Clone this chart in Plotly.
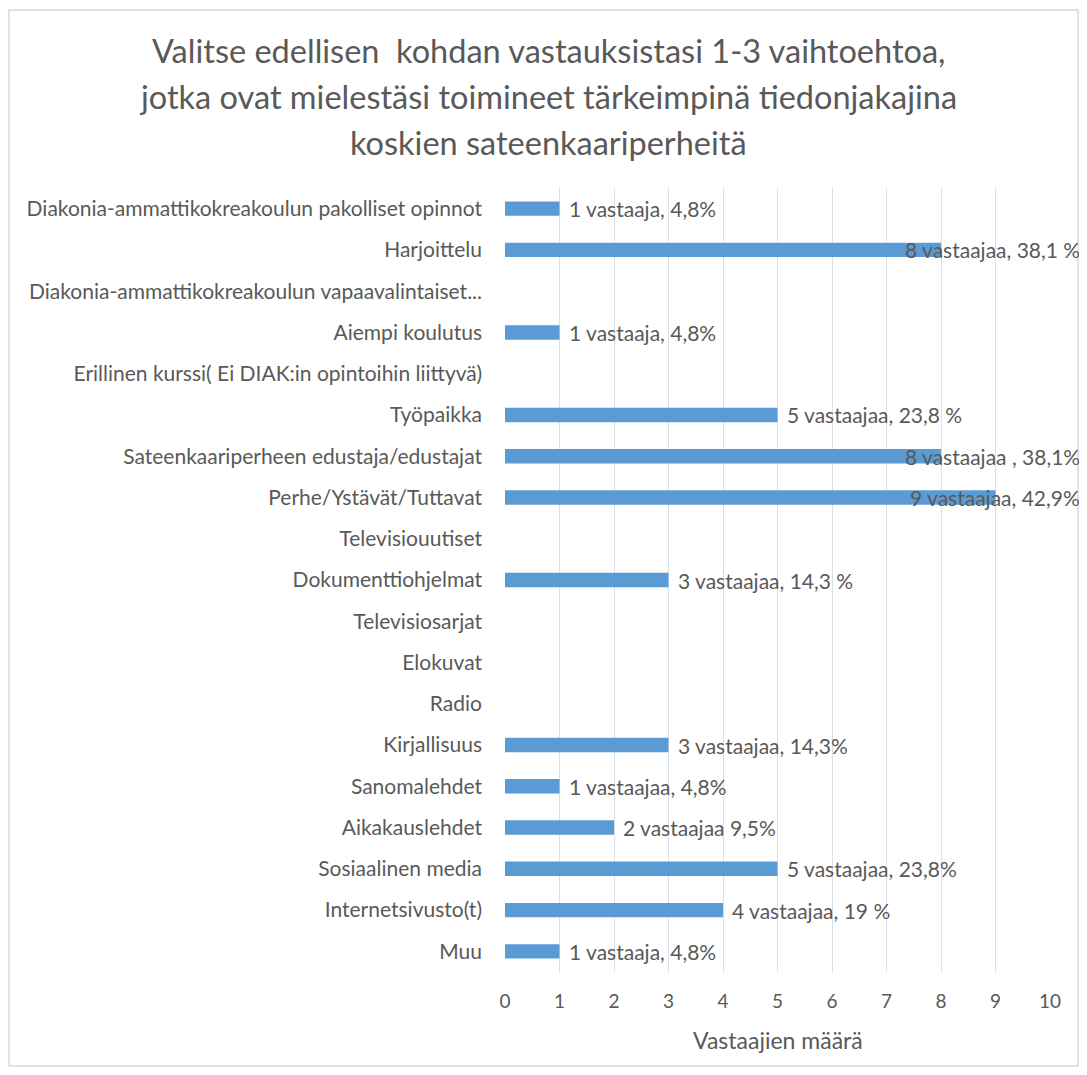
import plotly.graph_objects as go

# ---- data -------------------------------------------------------------------
CATEGORIES = [
    "Diakonia-ammattikokreakoulun pakolliset opinnot",
    "Harjoittelu",
    "Diakonia-ammattikokreakoulun vapaavalintaiset...",
    "Aiempi koulutus",
    "Erillinen kurssi( Ei DIAK:in opintoihin liittyvä)",
    "Työpaikka",
    "Sateenkaariperheen edustaja/edustajat",
    "Perhe/Ystävät/Tuttavat",
    "Televisiouutiset",
    "Dokumenttiohjelmat",
    "Televisiosarjat",
    "Elokuvat",
    "Radio",
    "Kirjallisuus",
    "Sanomalehdet",
    "Aikakauslehdet",
    "Sosiaalinen media",
    "Internetsivusto(t)",
    "Muu",
]
COUNTS = [1, 8, 0, 1, 0, 5, 8, 9, 0, 3, 0, 0, 0, 3, 1, 2, 5, 4, 1]
LABELS = [
    "1 vastaaja, 4,8%",
    "8 vastaajaa, 38,1 %",
    "",
    "1 vastaaja, 4,8%",
    "",
    "5 vastaajaa, 23,8 %",
    "8 vastaajaa , 38,1%",
    "9 vastaajaa, 42,9%",
    "",
    "3 vastaajaa, 14,3 %",
    "",
    "",
    "",
    "3 vastaajaa, 14,3%",
    "1 vastaajaa, 4,8%",
    "2 vastaajaa 9,5%",
    "5 vastaajaa, 23,8%",
    "4 vastaajaa, 19 %",
    "1 vastaaja, 4,8%",
]
TITLE_LINES = [
    "Valitse edellisen  kohdan vastauksistasi 1-3 vaihtoehtoa,",
    "jotka ovat mielestäsi toimineet tärkeimpinä tiedonjakajina",
    "koskien sateenkaariperheitä",
]
X_TICKS = list(range(0, 11))
X_TITLE = "Vastaajien määrä"

# ---- style ------------------------------------------------------------------
PAD = 8  # page body margin around the plot div
W, H = 1087 - 2 * PAD, 1075 - 2 * PAD
ML, MR, MT, MB = 497, 29, 180, 95
BAR = "#5B9BD5"
INK = "#595959"
GRID = "#D6E1EC"
BORDER = "#D9D9D9"
FONT = "Lato, 'Open Sans', sans-serif"

plot_w = W - ML - MR
plot_h = H - MT - MB


# screen pixel -> paper coordinate
def px_x(px):
    return (px - PAD - ML) / plot_w


def px_y(py):
    return 1 - (py - PAD - MT) / plot_h


fig = go.Figure(go.Bar(
    y=CATEGORIES, x=COUNTS, orientation="h",
    marker=dict(color=BAR, line=dict(width=0)),
    width=0.35, hoverinfo="skip",
))

# data labels: after the bar end, pushed back inside the chart when they overflow
for cat, v, lab in zip(CATEGORIES, COUNTS, LABELS):
    if not lab:
        continue
    if v >= 8:
        fig.add_annotation(x=px_x(1082), xref="paper", y=cat, yref="y", text=lab,
                           xanchor="right", showarrow=False,
                           font=dict(size=21, color=INK, family=FONT))
    else:
        fig.add_annotation(x=v, y=cat, text=lab, xanchor="left", xshift=7,
                           showarrow=False, font=dict(size=21, color=INK, family=FONT))

for i, line in enumerate(TITLE_LINES):
    fig.add_annotation(x=px_x(548), xref="paper", y=px_y(50 + 46.5 * i), yref="paper",
                       text=line, showarrow=False, xanchor="center", yanchor="middle",
                       font=dict(size=32.5, color=INK, family=FONT))

fig.add_annotation(x=0.5, xref="paper", y=px_y(1040), yref="paper", text=X_TITLE,
                   showarrow=False, xanchor="center", yanchor="middle",
                   font=dict(size=23, color=INK, family=FONT))

# chart-area border
fig.add_shape(type="rect", xref="paper", yref="paper",
              x0=px_x(9), x1=px_x(1078), y0=px_y(1066), y1=px_y(10),
              line=dict(color=BORDER, width=1.5), fillcolor="rgba(0,0,0,0)", layer="below")

fig.update_layout(
    width=W, height=H,
    margin=dict(l=ML, r=MR, t=MT, b=MB),
    paper_bgcolor="white", plot_bgcolor="white",
    font=dict(family=FONT, color=INK),
    showlegend=False,
)
fig.update_xaxes(range=[0, 10], tickvals=X_TICKS, showgrid=True, gridcolor=GRID, gridwidth=1,
                 zeroline=False, showline=False, ticks="", ticklabelstandoff=16,
                 tickfont=dict(size=19, color=INK, family=FONT))
fig.update_yaxes(categoryorder="array", categoryarray=CATEGORIES, autorange="reversed",
                 showgrid=False, zeroline=False, showline=False, ticks="",
                 ticklabelstandoff=22, tickfont=dict(size=21, color=INK, family=FONT))

fig.write_html("out.html")
